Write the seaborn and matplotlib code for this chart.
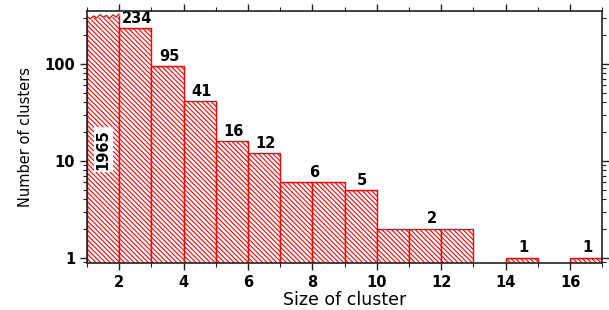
import numpy as np
import pandas as pd
import matplotlib
matplotlib.use('Agg')
import matplotlib.pyplot as plt
import matplotlib.ticker as mticker
import seaborn as sns

# Taille des clusters et nombre de clusters
cluster_size = [1, 2, 3, 4, 5, 6, 7, 8, 9, 10, 11, 12, 13, 14, 15, 16]
n_clusters = [1965, 234, 95, 41, 16, 12, 6, 6, 5, 2, 2, 2, 0, 1, 0, 1]

# Etiquettes au-dessus des barres
label_text = ["234", "95", "41", "16", "12", "6", "5", "2", "1", "1"]
label_x = [2.55, 3.55, 4.55, 5.55, 6.55, 8.05, 9.55, 11.7, 14.55, 16.55]
label_y = [234, 95, 41, 16, 12, 6, 5, 2, 1, 1]

x_ticks = [2, 4, 6, 8, 10, 12, 14, 16]
y_ticks = [1, 10, 100]
y_tick_labels = ["1", "10", "100"]

df = pd.DataFrame({"size": cluster_size, "count": n_clusters})

sns.set_style("ticks")
plt.rcParams['font.family'] = ['DejaVu Sans']
plt.rcParams['text.color'] = 'black'
plt.rcParams['axes.labelcolor'] = 'black'
plt.rcParams['xtick.color'] = 'black'
plt.rcParams['ytick.color'] = 'black'
plt.rcParams['hatch.color'] = 'red'
plt.rcParams['hatch.linewidth'] = 0.8

fig = plt.figure(figsize=(6.09, 3.10), dpi=100)
ax = fig.add_axes([0.143, 0.152, 0.846, 0.813])

sns.histplot(data=df, x="size", weights="count", binwidth=1, binrange=(1, 17), ax=ax,
             fill=True, color='white', edgecolor='red', linewidth=1.0, alpha=1)

for p in ax.patches:
    p.set_facecolor('white')
    p.set_edgecolor('red')
    p.set_hatch('\\' * 7)

ax.set_yscale('log')
ax.set_xlim(1, 17)
ax.set_ylim(0.888, 352)

# barre cassée (1965 dépasse l'axe)
wx = np.linspace(1, 2, 11)
wy = [0.978, 0.968, 0.980, 0.972, 0.985, 0.975, 0.982, 0.970, 0.984, 0.976, 0.988]
tr = matplotlib.transforms.blended_transform_factory(ax.transData, ax.transAxes)
ax.fill_between(wx, wy, 1.0, transform=tr, color='white', zorder=3)
ax.plot(wx, wy, transform=tr, color='red', lw=0.9, zorder=4)

ax.text(1.5, 13, "1965", rotation=90, ha='center', va='center', fontsize=10.5,
        fontweight='bold', color='black', zorder=5,
        bbox=dict(facecolor='white', edgecolor='none', pad=1.5))

for t, x, y in zip(label_text, label_x, label_y):
    ax.text(x, y * 1.06, t, ha='center', va='bottom', fontsize=10.5,
            fontweight='bold', color='black')

ax.set_xticks(x_ticks)
ax.xaxis.set_minor_locator(mticker.MultipleLocator(1))
ax.set_yticks(y_ticks, labels=y_tick_labels)
ax.yaxis.set_minor_formatter(mticker.NullFormatter())

for side in ['left', 'right', 'top', 'bottom']:
    ax.spines[side].set_visible(True)
    ax.spines[side].set_linewidth(1.2)
    ax.spines[side].set_color('#222222')
    ax.spines[side].set_zorder(6)

ax.tick_params(which='both', direction='out', top=True, right=True, color='#222222')
ax.tick_params(which='major', length=5, width=1.0, labelsize=10.5)
ax.tick_params(which='minor', length=3, width=0.8)
for lab in ax.get_xticklabels() + ax.get_yticklabels():
    lab.set_fontweight('bold')

ax.set_xlabel("Size of cluster", fontsize=12.5, labelpad=1)
ax.set_ylabel("Number of clusters", fontsize=10.5, labelpad=8)

plt.savefig("out.png", dpi=100)
plt.close()
